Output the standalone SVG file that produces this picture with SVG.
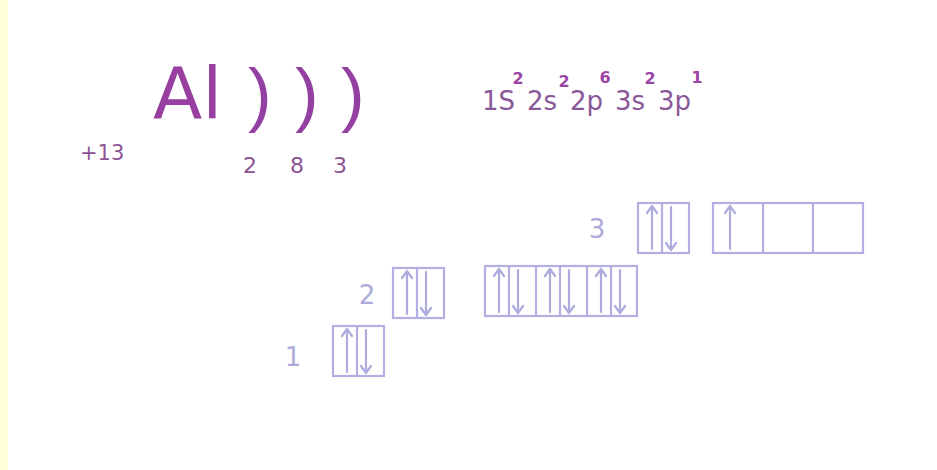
<svg xmlns="http://www.w3.org/2000/svg" xmlns:xlink="http://www.w3.org/1999/xlink" width="937" height="470" viewBox="0 0 937 470">
<style>
.t{font-family:"DejaVu Sans",Verdana,sans-serif}
.mag{fill:#9a3fa2}
.pur{fill:#8c5494}
.cfg{fill:#8a5898;font-size:26px}
.sup{fill:#9a45a6;font-size:16px;font-weight:bold;text-anchor:middle}
.par{font-family:"Liberation Sans",Arial,sans-serif;font-size:71px;fill:#9440a2}
.box{fill:none;stroke:#b2afe2;stroke-width:2.2}
.arr{fill:none;stroke:#aeabdf;stroke-width:2.2;stroke-linecap:round;stroke-linejoin:round}
.lvl{fill:#aeabd8;font-size:26px;text-anchor:middle}
</style>
<defs>
<path id="up" class="arr" d="M0,46 V3 M-5,10 L0,3 L5,10"/>
<path id="dn" class="arr" d="M0,4 V47 M-5,40 L0,47 L5,40"/>
</defs>
<rect x="0" y="0" width="937" height="470" fill="#ffffff"/>
<rect x="0" y="0" width="8" height="470" fill="#ffffda"/>

<g id="atom">
<text class="t pur" x="80" y="160" font-size="21">+13</text>
<text class="t mag" x="153" y="118" font-size="72">Al</text>
<text class="par" x="248" y="118">)</text>
<text class="par" x="295" y="118">)</text>
<text class="par" x="341" y="118">)</text>
<g class="t pur" font-size="22" text-anchor="middle">
<text x="250" y="173">2</text>
<text x="297" y="173">8</text>
<text x="340" y="173">3</text>
</g>
</g>

<g id="config" class="t">
<text class="cfg" x="482" y="110">1S</text>
<text class="cfg" x="527" y="110">2s</text>
<text class="cfg" x="570" y="110">2p</text>
<text class="cfg" x="615" y="110">3s</text>
<text class="cfg" x="658" y="110">3p</text>
<text class="sup" x="518" y="84">2</text>
<text class="sup" x="564" y="87">2</text>
<text class="sup" x="605" y="83">6</text>
<text class="sup" x="650" y="84">2</text>
<text class="sup" x="697" y="83">1</text>
</g>

<g id="level1">
<text class="t lvl" x="293" y="366">1</text>
<rect class="box" x="333" y="326" width="51" height="50"/>
<line class="box" x1="357" y1="326" x2="357" y2="376"/>
<use xlink:href="#up" x="347" y="326"/>
<use xlink:href="#dn" x="366" y="326"/>
</g>

<g id="level2">
<text class="t lvl" x="367" y="304">2</text>
<rect class="box" x="393" y="268" width="51" height="50"/>
<line class="box" x1="417" y1="268" x2="417" y2="318"/>
<use xlink:href="#up" x="407" y="268"/>
<use xlink:href="#dn" x="426" y="268"/>
</g>

<g id="level2p">
<rect class="box" x="485" y="266" width="152" height="50"/>
<line class="box" x1="536" y1="266" x2="536" y2="316"/>
<line class="box" x1="587" y1="266" x2="587" y2="316"/>
<line class="box" x1="509" y1="266" x2="509" y2="316"/>
<line class="box" x1="560" y1="266" x2="560" y2="316"/>
<line class="box" x1="611" y1="266" x2="611" y2="316"/>
<use xlink:href="#up" x="499" y="266"/>
<use xlink:href="#dn" x="518" y="266"/>
<use xlink:href="#up" x="550" y="266"/>
<use xlink:href="#dn" x="569" y="266"/>
<use xlink:href="#up" x="601" y="266"/>
<use xlink:href="#dn" x="620" y="266"/>
</g>

<g id="level3">
<text class="t lvl" x="597" y="238">3</text>
<rect class="box" x="638" y="203" width="51" height="50"/>
<line class="box" x1="662" y1="203" x2="662" y2="253"/>
<use xlink:href="#up" x="652" y="203"/>
<use xlink:href="#dn" x="671" y="203"/>
</g>

<g id="level3p">
<rect class="box" x="713" y="203" width="150" height="50"/>
<line class="box" x1="763" y1="203" x2="763" y2="253"/>
<line class="box" x1="813" y1="203" x2="813" y2="253"/>
<use xlink:href="#up" x="730" y="203"/>
</g>
</svg>
